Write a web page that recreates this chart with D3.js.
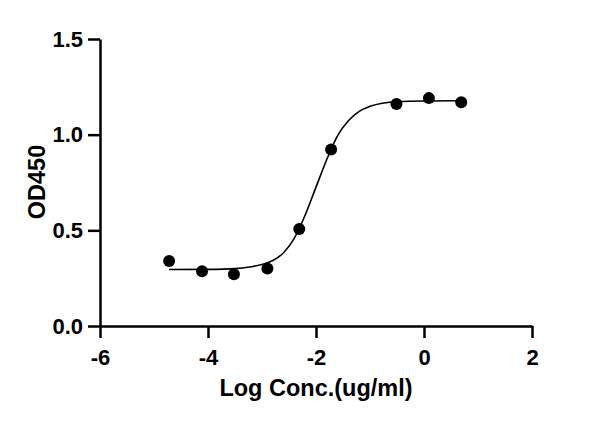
<!DOCTYPE html>
<html>
<head>
<meta charset="utf-8">
<script src="https://cdn.jsdelivr.net/npm/d3@7"></script>
<style>
    body { margin: 0; background: #fff; }
    svg { display: block; font-family: "Liberation Sans", Arial, sans-serif; }
    .axis path, .axis line { stroke: #000; stroke-width: 2.5; }
    .axis text { font-size: 22px; font-weight: bold; fill: #000; }
    .title { font-size: 23.5px; font-weight: bold; fill: #000; }
</style>
</head>
<body>
<svg id="chart" width="600" height="423"></svg>
<script>
// measured points
var logConc = [-4.72, -4.11, -3.52, -2.90, -2.31, -1.72, -0.51, 0.09, 0.69];
var od450 = [0.340, 0.286, 0.271, 0.300, 0.507, 0.923, 1.160, 1.191, 1.170];

// fitted curve
var fitX = [-4.72, -4.0, -3.5, -3.2, -3.0, -2.8, -2.6, -2.4, -2.2, -2.0, -1.8, -1.6, -1.4, -1.2, -1.0, -0.8, -0.5, 0, 0.69];
var fitY = [0.295, 0.296, 0.300, 0.310, 0.321, 0.342, 0.383, 0.459, 0.580, 0.726, 0.870, 0.995, 1.073, 1.122, 1.148, 1.163, 1.172, 1.176, 1.177];

var xTicks = [-6, -4, -2, 0, 2];
var yTicks = [0, 0.5, 1.0, 1.5];

var svg = d3.select('#chart'),
    margin = { top: 39, right: 68, bottom: 97, left: 100 },
    width = +svg.attr('width') - margin.left - margin.right,
    height = +svg.attr('height') - margin.top - margin.bottom;

var x = d3.scaleLinear().domain([-6, 2]).range([0, width]);
var y = d3.scaleLinear().domain([0, 1.5]).range([height, 0]);

var g = svg.append('g').attr('transform', 'translate(' + margin.left + ',' + margin.top + ')');

g.append('g')
    .attr('class', 'axis')
    .attr('transform', 'translate(0,' + height + ')')
    .call(d3.axisBottom(x).tickValues(xTicks).tickSize(12).tickSizeOuter(0).tickPadding(11)
        .tickFormat(function (d) { return d < 0 ? '-' + Math.abs(d) : d; }));

g.append('g')
    .attr('class', 'axis')
    .call(d3.axisLeft(y).tickValues(yTicks).tickSize(12).tickSizeOuter(0).tickPadding(5)
        .tickFormat(d3.format('.1f')));

var line = d3.line()
    .x(function (d, i) { return x(fitX[i]); })
    .y(function (d) { return y(d); })
    .curve(d3.curveMonotoneX);

g.append('path')
    .datum(fitY)
    .attr('fill', 'none')
    .attr('stroke', '#000')
    .attr('stroke-width', 1.6)
    .attr('d', line);

g.selectAll('circle.pt')
    .data(od450)
    .enter().append('circle')
    .attr('class', 'pt')
    .attr('cx', function (d, i) { return x(logConc[i]); })
    .attr('cy', function (d) { return y(d); })
    .attr('r', 6)
    .attr('fill', '#000');

g.append('text')
    .attr('class', 'title')
    .attr('x', width / 2)
    .attr('y', height + 70)
    .attr('text-anchor', 'middle')
    .text('Log Conc.(ug/ml)');

g.append('text')
    .attr('class', 'title')
    .attr('transform', 'translate(-55,' + (182 - margin.top) + ') rotate(-90)')
    .attr('text-anchor', 'middle')
    .text('OD450');
</script>
</body>
</html>
